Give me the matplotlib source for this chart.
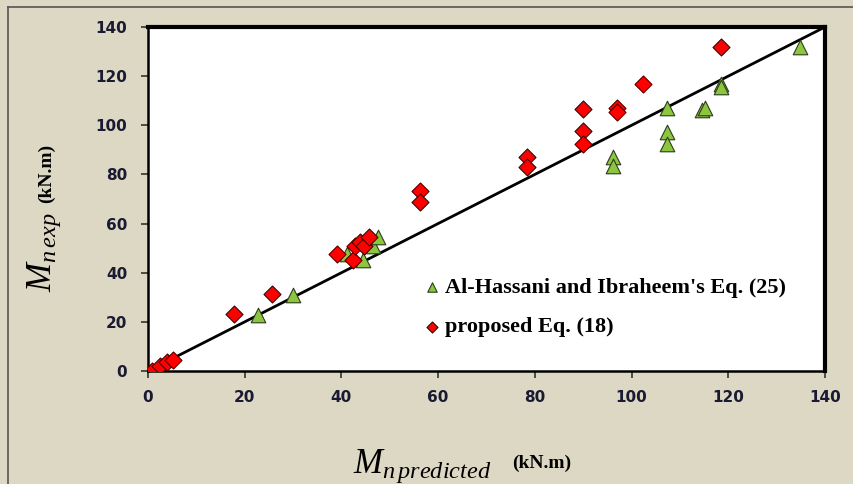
import numpy as np
from matplotlib import pyplot as plt
from matplotlib.lines import Line2D

plt.rcParams['mathtext.fontset'] = 'custom'
plt.rcParams['mathtext.rm'] = 'Liberation Serif'
plt.rcParams['mathtext.it'] = 'Liberation Serif:italic'
plt.rcParams['mathtext.bf'] = 'Liberation Serif:bold'

# Al-Hassani and Ibraheem's Eq. (25)
hassani_x = [22.8, 30.0, 41.1, 44.4, 46.6, 47.6, 96.1, 96.1, 107.3, 107.3, 107.3,
             114.5, 115.2, 118.4, 118.4, 134.8]
hassani_y = [22.8, 30.9, 47.6, 45.2, 51.0, 54.4, 87.2, 83.4, 106.9, 97.4, 92.3,
             106.2, 106.9, 116.8, 115.7, 131.7]

# proposed Eq. (18)
prop_x = [0.8, 2.5, 3.9, 5.2, 17.8, 25.6, 39.0, 42.3, 42.8, 43.8, 44.7, 45.6,
          56.2, 56.2, 78.3, 78.3, 90.0, 90.0, 90.0, 96.9, 96.9, 102.3, 118.4]
prop_y = [0.0, 2.0, 3.8, 4.5, 23.0, 31.3, 47.6, 45.2, 51.0, 52.6, 51.0, 54.7,
          73.3, 68.9, 87.2, 83.2, 106.6, 97.8, 92.3, 106.9, 105.5, 116.8, 132.0]

line_x = [0, 140]

bg = '#ddd8c4'
fig = plt.figure(figsize=(8.54, 4.84), dpi=100, facecolor=bg)
# outer chart border (left and top only are visible)
fig.add_artist(Line2D([8/854, 8/854], [0, 1-7/484], transform=fig.transFigure, color='#555555', lw=1.2))
fig.add_artist(Line2D([8/854, 1], [1-7/484, 1-7/484], transform=fig.transFigure, color='#555555', lw=1.2))

ax = fig.add_axes([148/854, 1-371/484, (825-148)/854, (371-27)/484])
ax.set_facecolor('white')

ax.plot(line_x, line_x, color='black', lw=2, zorder=2)
ax.scatter(hassani_x, hassani_y, marker='^', s=110, facecolor='#8cc63f',
           edgecolor='#2e3b1e', lw=0.8, zorder=3, label="Al-Hassani and Ibraheem's Eq. (25)")
ax.scatter(prop_x, prop_y, marker='D', s=75, facecolor='#ff0000',
           edgecolor='#4a0000', lw=0.8, zorder=4, label='proposed Eq. (18)')

ax.set_xlim(0, 140)
ax.set_ylim(0, 140)
ax.set_xticks(np.arange(0, 141, 20))
ax.set_yticks(np.arange(0, 141, 20))
ax.tick_params(direction='out', length=5, width=1.2, color='#333333',
               labelsize=11, labelcolor='#1a1a33')
ax.tick_params(axis='x', pad=9)
ax.tick_params(axis='y', pad=10)
for lab in ax.get_xticklabels() + ax.get_yticklabels():
    lab.set_fontweight('bold')
    lab.set_family('DejaVu Sans')
for s in ['left', 'bottom']:
    ax.spines[s].set_linewidth(1.8)
for s in ['top', 'right']:
    ax.spines[s].set_linewidth(3)

ax.legend(loc='center left', bbox_to_anchor=(0.39, 0.185), frameon=False,
          prop={'family': 'Liberation Serif', 'weight': 'bold', 'size': 16},
          markerscale=0.65, handletextpad=0.1, labelspacing=0.85, borderaxespad=0,
          handlelength=1.0)

fig.text(422/854, 1-466/484, r'$M_{n\,predicted}$', fontsize=25, ha='center', va='center')
fig.text(512/854, 1-463/484, '(kN.m)', fontsize=14, fontweight='bold',
         family='Liberation Serif', ha='left', va='center')
fig.text(44/854, 1-252/484, r'$M_{n\,exp}$', fontsize=25, ha='center', va='center', rotation=90)
fig.text(46/854, 1-173/484, '(kN.m)', fontsize=14, fontweight='bold',
         family='Liberation Serif', ha='center', va='center', rotation=90)

fig.savefig('out.png', dpi=100, facecolor=bg)
